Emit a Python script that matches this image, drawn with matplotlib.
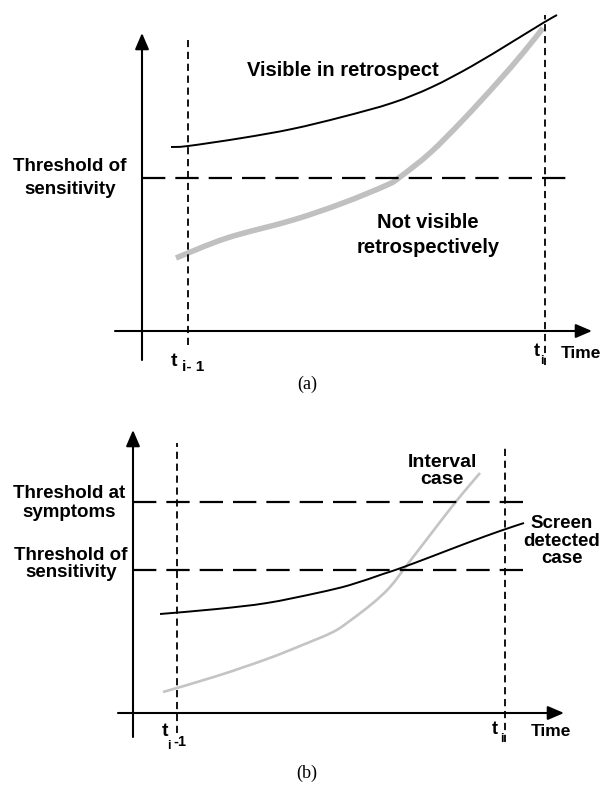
import matplotlib
matplotlib.use("Agg")
import matplotlib.pyplot as plt
from matplotlib.path import Path
from matplotlib.patches import PathPatch

# ---------------- data (time from y-axis, level above x-axis) ----------------
# Panel (a)
a_visible_t = [29, 46, 100, 150, 200, 250, 290, 330, 370, 401, 415]
a_visible_y = [184, 185, 193, 202, 214, 228, 244, 265, 289, 308, 316]
a_notvis_t = [34, 85, 151, 201, 245, 258, 288, 321, 355, 381, 401]
a_notvis_y = [73, 93, 111, 128, 146, 154, 178, 211, 248, 278, 303]
a_t_prev, a_t_i = 46, 403
a_threshold = 153

# Panel (b)
b_screen_t = [27, 84, 134, 184, 217, 250, 268, 300, 334, 367, 391]
b_screen_y = [99, 104, 110, 120, 128, 139, 145, 157, 170, 182, 190]
b_interval_t = [30, 84, 134, 167, 200, 218, 240, 257, 274, 294, 314, 330, 347]
b_interval_y = [21, 37, 54, 67, 81, 93, 110, 126, 148, 174, 200, 220, 240]
b_t_prev, b_t_i = 44, 372
b_thr_symptoms = 211
b_thr_sensitivity = 143

FONT = "Liberation Sans"
SERIF = "Liberation Serif"

fig = plt.figure(figsize=(6.03, 7.85), dpi=100)
fig.patch.set_facecolor("white")

H = 785.0


def make_ax(top_px, bottom_px, x0, y0):
    ax = fig.add_axes([0, (H - bottom_px) / H, 1, (bottom_px - top_px) / H])
    ax.set_xlim(-x0, 603 - x0)
    ax.set_ylim(y0 - bottom_px, y0 - top_px)
    ax.axis("off")
    return ax


def smooth_curve(ax, xs, ys, **kw):
    # Catmull-Rom through the read points, drawn as cubic Bezier segments
    pts = list(zip(xs, ys))
    verts = [pts[0]]
    codes = [Path.MOVETO]
    n = len(pts)
    for i in range(n - 1):
        p0 = pts[i - 1] if i > 0 else pts[i]
        p1 = pts[i]
        p2 = pts[i + 1]
        p3 = pts[i + 2] if i + 2 < n else pts[i + 1]
        c1 = (p1[0] + (p2[0] - p0[0]) / 6.0, p1[1] + (p2[1] - p0[1]) / 6.0)
        c2 = (p2[0] - (p3[0] - p1[0]) / 6.0, p2[1] - (p3[1] - p1[1]) / 6.0)
        verts += [c1, c2, p2]
        codes += [Path.CURVE4] * 3
    ax.add_patch(PathPatch(Path(verts, codes), fill=False, **kw))


def arrow(ax, start, tip):
    ax.annotate("", xy=tip, xytext=start,
                arrowprops=dict(arrowstyle="-|>,head_length=0.7,head_width=0.3",
                                color="black", lw=1.5, mutation_scale=14,
                                shrinkA=0, shrinkB=0))


def hdash(ax, y, x1):
    ax.plot([0, x1], [y, y], color="black", lw=1.6, dashes=(10.5, 4.5),
            solid_capstyle="butt", dash_capstyle="butt")


def vdash(ax, x, y1, y2):
    ax.plot([x, x], [y1, y2], color="black", lw=1.3, dashes=(4.0, 2.6),
            dash_capstyle="butt")


def label(ax, x, y, s, size=12.5, ha="center", va="center", ls=1.0):
    ax.text(x, y, s, fontsize=size, fontweight="bold", family=FONT,
            ha=ha, va=va, linespacing=ls)


# ---------------- panel (a) ----------------
ax = make_ax(0, 392, 142, 331)
arrow(ax, (-27, 0), (450, 0))
arrow(ax, (0, -29), (0, 298))
vdash(ax, a_t_prev, -14, 291)
vdash(ax, a_t_i, -34, 316)
hdash(ax, a_threshold, 433)
smooth_curve(ax, a_notvis_t, a_notvis_y, edgecolor="#c0c0c0", lw=4.0,
             capstyle="butt", joinstyle="round")
smooth_curve(ax, a_visible_t, a_visible_y, edgecolor="black", lw=1.4)
label(ax, 201, 261, "Visible in retrospect", size=14.5)
label(ax, -72, 153, "Threshold of\nsensitivity", size=13.5, ls=1.45)
label(ax, 286, 96, "Not visible\nretrospectively", size=14.5, ls=1.35)
label(ax, 32, -30, "t", size=14)
label(ax, 40, -36, "i- 1", size=11, ha="left")
label(ax, 395, -20, "t", size=13)
label(ax, 400, -30, "i", size=9)
label(ax, 439, -22, "Time", size=12.5)
ax.text(165, -53, "(a)", fontsize=13, family=SERIF, ha="center", va="center")

# ---------------- panel (b) ----------------
ax = make_ax(392, 785, 133, 713)
arrow(ax, (-15, 0), (431, 0))
arrow(ax, (0, -24), (0, 283))
vdash(ax, b_t_prev, -20, 270)
vdash(ax, b_t_i, -29, 266)
hdash(ax, b_thr_symptoms, 397)
hdash(ax, b_thr_sensitivity, 397)
smooth_curve(ax, b_interval_t, b_interval_y, edgecolor="#c4c4c4", lw=1.9)
smooth_curve(ax, b_screen_t, b_screen_y, edgecolor="black", lw=1.4)
label(ax, 309, 242, "Interval\ncase", size=14, ls=1.05)
label(ax, 429, 172, "Screen\ndetected\ncase", size=13.5, ls=1.05)
label(ax, -64, 210, "Threshold at\nsymptoms", size=13.5, ls=1.1)
label(ax, -62, 149, "Threshold of\nsensitivity", size=13.5, ls=1.0)
label(ax, 32, -19, "t", size=14)
label(ax, 36, -33, "i", size=9)
label(ax, 40, -29, "-1", size=10.5, ha="left")
label(ax, 362, -16, "t", size=13)
label(ax, 369, -26, "i", size=9)
label(ax, 418, -19, "Time", size=12.5)
ax.text(174, -60, "(b)", fontsize=13, family=SERIF, ha="center", va="center")

fig.savefig("out.png", dpi=100, facecolor="white")
